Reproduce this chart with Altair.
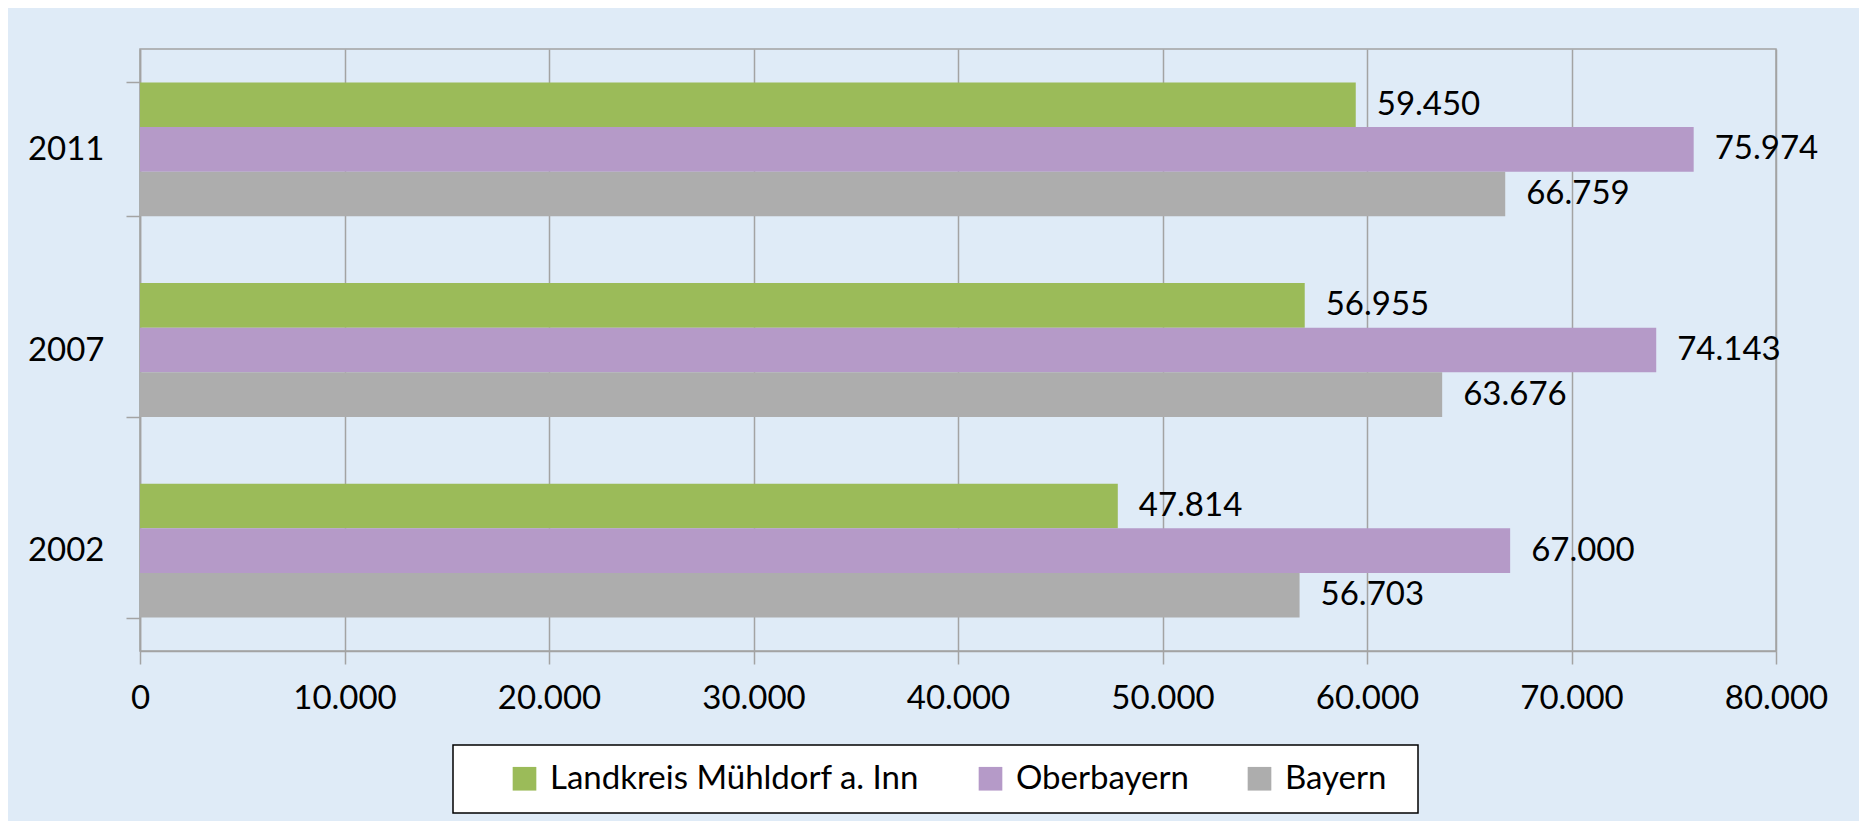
import altair as alt
import pandas as pd

# ---- data ----
years = ["2011", "2007", "2002"]
series = ["Landkreis Mühldorf a. Inn", "Oberbayern", "Bayern"]
landkreis = [59450, 56955, 47814]
oberbayern = [75974, 74143, 67000]
bayern = [66759, 63676, 56703]
colors = ["#9BBB59", "#B59AC8", "#ADADAD"]
x_ticks = [0, 10000, 20000, 30000, 40000, 50000, 60000, 70000, 80000]

rows = []
for s, vals in zip(series, [landkreis, oberbayern, bayern]):
    for y, v in zip(years, vals):
        rows.append({"Jahr": y, "Gebiet": s, "Wert": v,
                     "Label": f"{v:,}".replace(",", ".")})
df = pd.DataFrame(rows)

FONT = "Lato"
GRID = "#A3A3A3"

y_enc = alt.Y("Jahr:N", sort=years,
              scale=alt.Scale(paddingInner=0.333, paddingOuter=0.1667),
              axis=alt.Axis(title=None, tickBand="extent", tickSize=14,
                            labelPadding=22, labelFontSize=33, labelFont=FONT,
                            labelColor="#000000", domainColor=GRID,
                            tickColor=GRID, tickWidth=1.5, domainWidth=1.5,
                            grid=False))
yoff_enc = alt.YOffset("Gebiet:N", sort=series,
                       scale=alt.Scale(paddingInner=0, paddingOuter=0))
x_enc = alt.X("Wert:Q",
              scale=alt.Scale(domain=[0, 80000], nice=False),
              axis=alt.Axis(title=None, values=x_ticks, tickSize=13,
                            labelPadding=18, labelFontSize=33, labelFont=FONT,
                            labelColor="#000000", labelFlush=False,
                            labelOverlap=False,
                            labelExpr="replace(format(datum.value, ','), ',', '.')",
                            grid=True, gridColor=GRID, gridWidth=1.5,
                            domainColor=GRID, domainWidth=1.5,
                            tickColor=GRID, tickWidth=1.5))

legend_box = alt.Chart(pd.DataFrame({"a": [0]})).mark_rect(
    fill="#FFFFFF", stroke="#000000", strokeWidth=1.5
).encode(x=alt.value(313), x2=alt.value(1278), y=alt.value(696), y2=alt.value(764))

bars = alt.Chart(df).mark_bar(opacity=1).encode(
    x=x_enc,
    y=y_enc,
    yOffset=yoff_enc,
    color=alt.Color("Gebiet:N", sort=series,
                    scale=alt.Scale(domain=series, range=colors),
                    legend=alt.Legend(title=None, orient="none",
                                      direction="horizontal",
                                      legendX=368, legendY=713,
                                      symbolType="square", symbolSize=560,
                                      symbolStrokeWidth=0, symbolOpacity=1,
                                      labelFont=FONT, labelFontSize=33,
                                      labelColor="#000000", labelOffset=9,
                                      labelLimit=0,
                                      columnPadding=54, padding=0)),
)

labels = alt.Chart(df).mark_text(
    align="left", baseline="middle", dx=21, font=FONT, fontSize=33,
    color="#000000"
).encode(
    x="Wert:Q",
    y=alt.Y("Jahr:N", sort=years),
    yOffset=alt.YOffset("Gebiet:N", sort=series),
    text="Label:N",
)

chart = alt.layer(legend_box, bars, labels).properties(
    width=1636, height=602,
    autosize=alt.AutoSizeParams(type="none"),
    padding={"left": 132, "top": 41, "right": 83, "bottom": 170},
).configure(background="#DFEBF7").configure_view(stroke=GRID, strokeWidth=1.5)

chart.save("out.html", embed_options={"renderer": "svg", "actions": False})
